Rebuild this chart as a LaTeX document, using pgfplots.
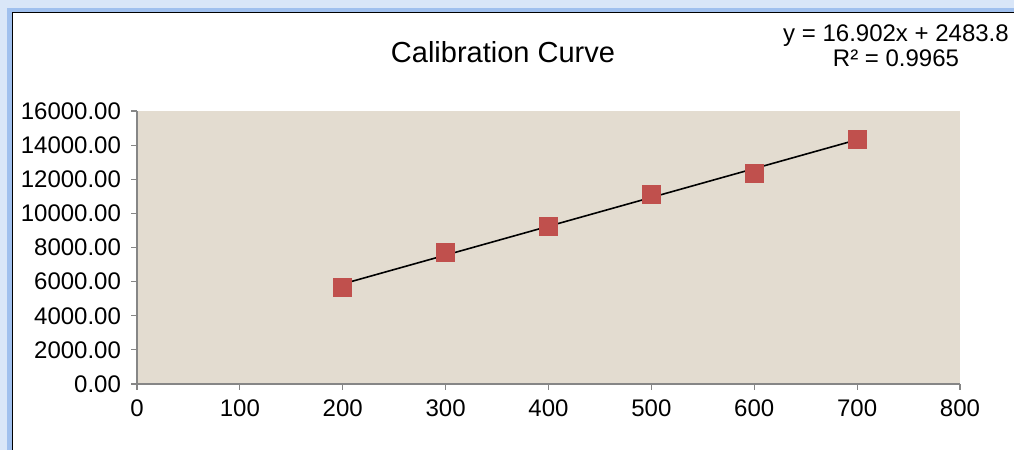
\documentclass[border=0pt]{standalone}
\usepackage{pgfplots}
\pgfplotsset{compat=1.18}
\usepackage{fontspec}
\setmainfont{Liberation Sans}
\definecolor{plotbg}{RGB}{227,220,208}
\definecolor{mk}{RGB}{192,80,77}
\definecolor{axgray}{RGB}{134,134,134}
\definecolor{glow}{RGB}{160,192,238}
\begin{document}
\begin{tikzpicture}[x=1pt,y=1pt]
\path[use as bounding box] (0,0) rectangle (507,225);
\fill[white] (0,0) rectangle (507,225);
% blue glow frame
\fill[glow!40] (0,0) rectangle (6,225);
\fill[glow!40] (0,225) rectangle (507,219);
\fill[glow] (3.5,0) rectangle (6,219);
\fill[glow] (3.5,218.5) rectangle (507,221);
\fill[white] (6,0) rectangle (507,218.5);
\draw[black,line width=0.5pt] (6,0) -- (6,218.5) -- (507,218.5);
\begin{axis}[
  at={(68.5pt,33pt)}, anchor=south west,
  scale only axis, width=411.5pt, height=136.5pt,
  xmin=0, xmax=800, ymin=0, ymax=16000,
  xtick={0,100,...,800}, ytick={0,2000,...,16000},
  scaled y ticks=false, scaled x ticks=false,
  axis lines*=left,
  axis line style={axgray, line width=0.6pt},
  axis background/.style={fill=plotbg},
  tick style={axgray, line width=0.6pt},
  tick align=outside, major tick length=3pt,
  ticklabel style={font=\fontsize{12}{14}\selectfont},
  /pgf/number format/assume math mode=true,
  yticklabel style={/pgf/number format/fixed, /pgf/number format/fixed zerofill, /pgf/number format/precision=2, /pgf/number format/1000 sep={}, xshift=-1.5pt},
  xticklabel style={/pgf/number format/fixed, /pgf/number format/1000 sep={}, yshift=-1.5pt},
  clip=false,
]
\addplot[only marks, mark=square*, mark size=4.5pt, mark options={draw=mk, fill=mk}]
  coordinates {(200,5684) (300,7694) (400,9218) (500,11115) (600,12347) (700,14357)};
\addplot[black, line width=0.8pt, no marks] coordinates {(200,5864.2) (700,14315.2)};
\end{axis}
\node[font=\fontsize{14.5}{16}\selectfont] at (251.5,199) {Calibration Curve};
\node[font=\fontsize{12}{14}\selectfont, align=center, inner sep=0pt] at (448,202)
  {y = 16.902x + 2483.8\\[-1.5pt] R² = 0.9965};
\end{tikzpicture}
\end{document}
